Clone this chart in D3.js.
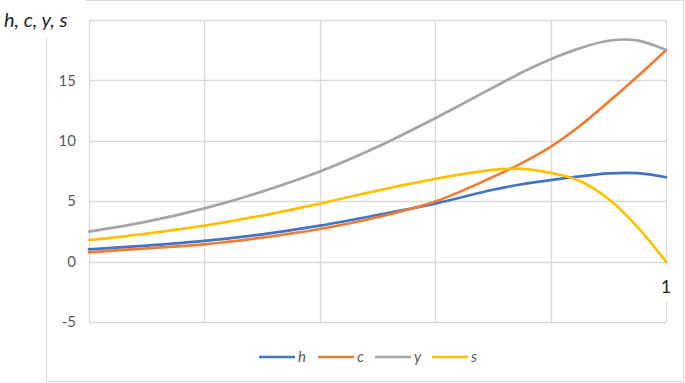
<!DOCTYPE html>
<html>
<head>
    <title>h, c, y, s</title>
    <script src="https://d3js.org/d3.v7.min.js"></script>
    <style>
        body { margin: 0; background: #fff; font-family: Lato, "Open Sans", sans-serif; }
        .grid line { stroke: #d9d9d9; stroke-width: 1.3px; }
        .tick-label { font-size: 15px; fill: #595959; }
        .series { fill: none; stroke-width: 2.7px; stroke-linecap: round; }
    </style>
</head>
<body>
    <div id="chart"></div>
    <script>
        // values
        const xs = [0, 0.1, 0.2, 0.3, 0.4, 0.5, 0.6, 0.7, 0.75, 0.8, 0.85, 0.9, 0.95, 1];
        const hVals = [1.02, 1.32, 1.71, 2.26, 2.98, 3.86, 4.8, 5.95, 6.4, 6.75, 7.05, 7.3, 7.32, 6.98];
        const cVals = [0.77, 1.1, 1.43, 1.99, 2.7, 3.67, 4.97, 7.0, 8.15, 9.5, 11.2, 13.2, 15.3, 17.5];
        const yVals = [2.48, 3.31, 4.41, 5.79, 7.45, 9.5, 11.87, 14.4, 15.65, 16.75, 17.65, 18.28, 18.32, 17.52];
        const sVals = [1.77, 2.32, 2.98, 3.81, 4.8, 5.88, 6.85, 7.59, 7.67, 7.34, 6.7, 5.2, 2.9, 0];
        const seriesNames = ["h", "c", "y", "s"];
        const seriesColors = ["#4472C4", "#ED7D31", "#A5A5A5", "#FFC000"];
        const yTicks = [-5, 0, 5, 10, 15, 20];
        const yTickLabels = ["-5", "0", "5", "10", "15", ""];

        const width = 685, height = 383;
        const svg = d3.select("#chart").append("svg")
            .attr("width", width)
            .attr("height", height);

        // chart frame
        svg.append("rect")
            .attr("x", 46.5).attr("y", 0.5)
            .attr("width", 637).attr("height", 381)
            .attr("fill", "#fff")
            .attr("stroke", "#d9d9d9");

        const x = d3.scaleLinear().domain([0, 1]).range([89, 666]);
        const y = d3.scaleLinear().domain([-5, 20]).range([322, 20]);

        const grid = svg.append("g").attr("class", "grid");
        grid.selectAll(".h")
            .data(yTicks)
            .enter().append("line")
            .attr("x1", x(0)).attr("x2", x(1))
            .attr("y1", d => Math.round(y(d)) + 0.5)
            .attr("y2", d => Math.round(y(d)) + 0.5);
        grid.selectAll(".v")
            .data(d3.range(0, 1.01, 0.2))
            .enter().append("line")
            .attr("x1", d => Math.round(x(d)) + 0.5)
            .attr("x2", d => Math.round(x(d)) + 0.5)
            .attr("y1", y(20)).attr("y2", y(-5))
            .attr("stroke", d => d === 0 ? "#bfbfbf" : null);

        svg.selectAll(".tick-label")
            .data(yTicks)
            .enter().append("text")
            .attr("class", "tick-label")
            .attr("x", 76)
            .attr("y", d => y(d))
            .attr("dy", "0.35em")
            .attr("text-anchor", "end")
            .text((d, i) => yTickLabels[i]);

        const allSeries = [hVals, cVals, yVals, sVals];
        const line = d3.line()
            .x((d, i) => x(xs[i]))
            .y(d => y(d))
            .curve(d3.curveCatmullRom.alpha(0.5));

        svg.selectAll(".series")
            .data(allSeries)
            .enter().append("path")
            .attr("class", "series")
            .attr("stroke", (d, i) => seriesColors[i])
            .attr("d", line);

        // "1" label sitting on the right gridline
        svg.append("rect")
            .attr("x", 657).attr("y", 266)
            .attr("width", 18).attr("height", 36)
            .attr("fill", "#fff");
        svg.append("text")
            .attr("x", x(1))
            .attr("y", 293)
            .attr("text-anchor", "middle")
            .attr("font-size", "18px")
            .attr("fill", "#262626")
            .text("1");

        // axis title in the top-left corner
        svg.append("rect")
            .attr("x", 0).attr("y", 0)
            .attr("width", 85).attr("height", 37)
            .attr("fill", "#fff");
        svg.append("text")
            .attr("x", 4)
            .attr("y", 27)
            .attr("font-size", "20px")
            .attr("font-style", "italic")
            .attr("fill", "#262626")
            .text("h, c, y, s");

        // legend
        const legendX = [259, 318, 375, 432];
        const legend = svg.selectAll(".legend")
            .data(seriesNames)
            .enter().append("g")
            .attr("transform", (d, i) => `translate(${legendX[i]}, 357)`);
        legend.append("line")
            .attr("x1", 0).attr("x2", 36)
            .attr("stroke-width", 2.7)
            .attr("stroke", (d, i) => seriesColors[i]);
        legend.append("text")
            .attr("x", 39)
            .attr("dy", "0.35em")
            .attr("font-size", "15px")
            .attr("font-style", "italic")
            .attr("fill", "#595959")
            .text(d => d);
    </script>
</body>
</html>
